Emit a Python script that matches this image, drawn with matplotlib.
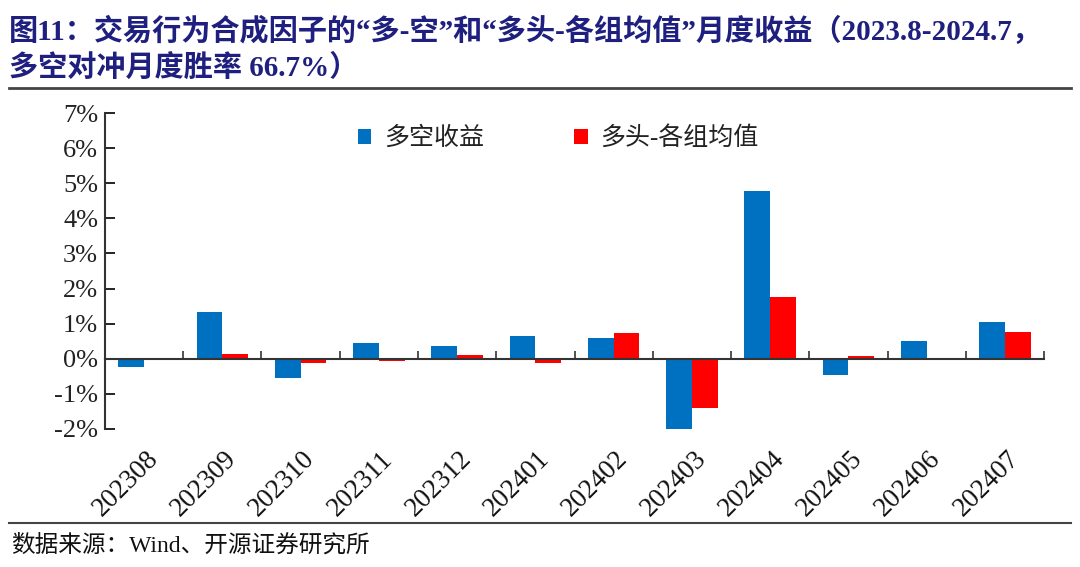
import matplotlib
matplotlib.use("Agg")
import matplotlib.pyplot as plt
import matplotlib.transforms as mtransforms
from matplotlib.patches import Patch
from matplotlib.lines import Line2D
import numpy as np

plt.rcParams['font.family'] = ['Liberation Serif', 'Noto Sans CJK SC']
plt.rcParams['axes.unicode_minus'] = False

months = ["202308", "202309", "202310", "202311", "202312", "202401",
          "202402", "202403", "202404", "202405", "202406", "202407"]
long_short = [-0.23, 1.34, -0.55, 0.45, 0.37, 0.65, 0.58, -2.03, 4.77, -0.47, 0.50, 1.04]
long_minus_avg = [0.03, 0.15, -0.13, -0.05, 0.10, -0.13, 0.72, -1.40, 1.77, 0.07, 0.00, 0.75]
series_names = ["多空收益", "多头-各组均值"]
yticks = [-2, -1, 0, 1, 2, 3, 4, 5, 6, 7]

BLUE = "#0070C0"
RED = "#FF0000"
NAVY = "#1F1F7F"

fig = plt.figure(figsize=(10.8, 5.67), dpi=100)
ax = fig.add_axes([0.0972, 0.2434, 0.8695, 0.5573])

x = np.arange(len(months))
w = 0.33
ax.bar(x - w / 2, long_short, width=w, color=BLUE, label=series_names[0], zorder=2)
ax.bar(x + w / 2, long_minus_avg, width=w, color=RED, label=series_names[1], zorder=2)

ax.set_xlim(-0.5, len(months) - 0.5)
ax.set_ylim(-2, 7)
ax.set_yticks(yticks)
ax.set_yticklabels([f"{v}%" for v in yticks], fontsize=19, color="#222222")
ax.tick_params(axis='y', direction='in', length=7, width=1.2, pad=5)

for s in ['top', 'right']:
    ax.spines[s].set_visible(False)
ax.spines['left'].set_linewidth(1.5)
ax.spines['left'].set_color('#333333')
ax.spines['bottom'].set_position(('data', 0))
ax.spines['bottom'].set_linewidth(1.5)
ax.spines['bottom'].set_color('#333333')
ax.spines['bottom'].set_zorder(3)

# boundary ticks on the zero line
ax.set_xticks(np.arange(len(months) + 1) - 0.5)
ax.set_xticklabels([])
ax.tick_params(axis='x', direction='in', length=6, width=1.2, color='#333333')

# month labels below plot
trans = mtransforms.blended_transform_factory(ax.transData, ax.transAxes)
for xi, m in zip(x, months):
    ax.text(xi + 0.02, -0.055, m, transform=trans, rotation=45, rotation_mode='anchor',
            ha='right', va='top', fontsize=19.5, color='#111111')

handles = [Patch(facecolor=BLUE), Patch(facecolor=RED)]
leg = ax.legend(handles, series_names, loc='upper left', bbox_to_anchor=(0.245, 1.03), ncol=2,
                frameon=False, fontsize=18, handlelength=0.55, handleheight=0.55,
                handletextpad=0.5, columnspacing=3.6)
for t in leg.get_texts():
    t.set_color('#222222')

# title
fig.text(0.008, 0.945, "图11：交易行为合成因子的“多-空”和“多头-各组均值”月度收益（2023.8-2024.7，",
         fontsize=21, fontweight='bold', color=NAVY, ha='left', va='center')
fig.text(0.008, 0.880, "多空对冲月度胜率 66.7%）",
         fontsize=21, fontweight='bold', color=NAVY, ha='left', va='center')

fig.add_artist(Line2D([0.008, 0.992], [1 - 88 / 567, 1 - 88 / 567], color='#444444', linewidth=2))
fig.add_artist(Line2D([0.008, 0.992], [1 - 523 / 567, 1 - 523 / 567], color='#444444', linewidth=1.5))

fig.text(0.01, 1 - 545 / 567, "数据来源：Wind、开源证券研究所", fontsize=17, color='#111111',
         ha='left', va='center')

fig.savefig("out.png", dpi=100)
